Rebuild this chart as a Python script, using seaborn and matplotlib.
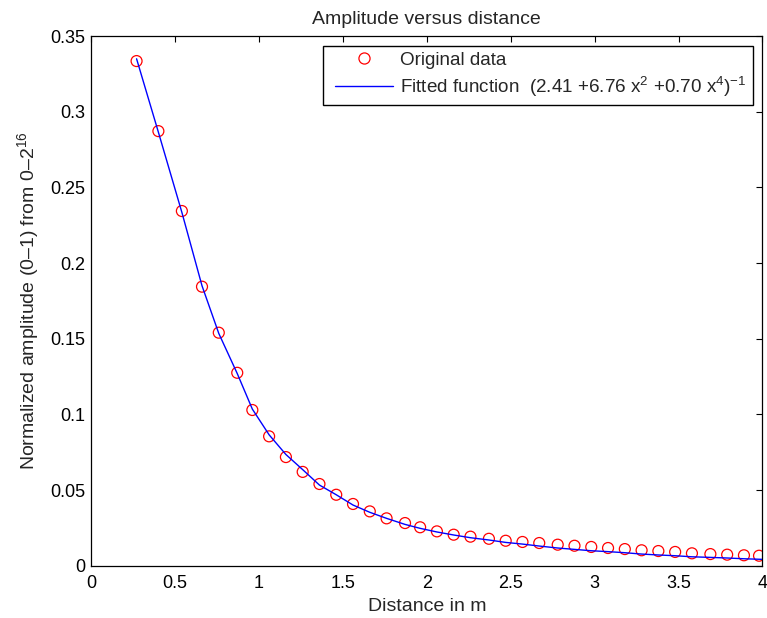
import matplotlib
matplotlib.use('Agg')
import matplotlib.pyplot as plt
from matplotlib.legend_handler import HandlerLine2D
import seaborn as sns

distance = [0.27, 0.40, 0.54, 0.66, 0.76, 0.87, 0.96, 1.06, 1.16, 1.26,
            1.36, 1.46, 1.56, 1.66, 1.76, 1.87, 1.96, 2.06, 2.16, 2.26,
            2.37, 2.47, 2.57, 2.67, 2.78, 2.88, 2.98, 3.08, 3.18, 3.28,
            3.38, 3.48, 3.58, 3.69, 3.79, 3.89, 3.98]
amplitude = [0.3335, 0.2872, 0.2344, 0.1844, 0.1540, 0.1275, 0.1029, 0.0855, 0.0718, 0.0620,
             0.0540, 0.0469, 0.0408, 0.0359, 0.0313, 0.0282, 0.0254, 0.0227, 0.0205, 0.0192,
             0.0178, 0.0165, 0.0157, 0.0150, 0.0139, 0.0132, 0.0124, 0.0117, 0.0110, 0.0102,
             0.0097, 0.0091, 0.0082, 0.0077, 0.0073, 0.0069, 0.0066]

# Fitted curve
fit_distance = [0.27, 0.40, 0.54, 0.66, 0.76, 0.87, 0.96, 1.06, 1.16, 1.26,
                1.36, 1.46, 1.56, 1.66, 1.76, 1.87, 1.96, 2.06, 2.16, 2.26,
                2.37, 2.47, 2.57, 2.67, 2.78, 2.88, 2.98, 3.08, 3.18, 3.28,
                3.38, 3.48, 3.58, 3.69, 3.79, 3.89, 4.00]
fit_amplitude = [0.3350, 0.2865, 0.2335, 0.1850, 0.1535, 0.1270, 0.1035, 0.0865, 0.0735, 0.0635,
                 0.0533, 0.0469, 0.0401, 0.0353, 0.0313, 0.0273, 0.0247, 0.0223, 0.0203, 0.0185,
                 0.0170, 0.0154, 0.0143, 0.0130, 0.0117, 0.0108, 0.0099, 0.0093, 0.0086, 0.0077,
                 0.0071, 0.0066, 0.0059, 0.0055, 0.0051, 0.0046, 0.0042]

xticks = [0, 0.5, 1, 1.5, 2, 2.5, 3, 3.5, 4]
yticks = [0, 0.05, 0.1, 0.15, 0.2, 0.25, 0.3, 0.35]

sns.set_style('white')
plt.rcParams['font.family'] = ['Liberation Sans', 'DejaVu Sans']
plt.rcParams['mathtext.fontset'] = 'custom'
plt.rcParams['mathtext.rm'] = 'Liberation Sans'
plt.rcParams['mathtext.default'] = 'regular'

fig = plt.figure(figsize=(7.67, 6.18), dpi=100)
ax = fig.add_axes([0.119, 0.0846, 0.875, 0.857])

sns.scatterplot(x=distance, y=amplitude, marker='o', s=62, facecolor='none',
                edgecolor='red', linewidth=0.9, ax=ax, zorder=2)
sns.lineplot(x=fit_distance, y=fit_amplitude, color='blue', linewidth=1.0,
             sort=False, ax=ax, zorder=3)

ax.set_xlim(0, 4)
ax.set_ylim(0, 0.35)
ax.set_xticks(xticks)
ax.set_xticklabels(['0', '0.5', '1', '1.5', '2', '2.5', '3', '3.5', '4'])
ax.set_yticks(yticks)
ax.set_yticklabels(['0', '0.05', '0.1', '0.15', '0.2', '0.25', '0.3', '0.35'])

for s in ax.spines.values():
    s.set_visible(True)
    s.set_color('black')
    s.set_linewidth(0.9)

ax.tick_params(axis='both', direction='in', length=4.5, width=0.8, colors='black',
               labelsize=13, top=True, right=True)
ax.tick_params(axis='x', pad=7)
ax.tick_params(axis='y', pad=4)

ax.set_xlabel('Distance in m', fontsize=14, labelpad=4)
ax.set_ylabel('Normalized amplitude (0\u20131) from 0\u20132$^{16}$', fontsize=14, labelpad=7)
ax.set_title('Amplitude versus distance', fontsize=14, pad=9)

h_pts = plt.Line2D([], [], linestyle='none', marker='o', markersize=8,
                   markerfacecolor='none', markeredgecolor='red', markeredgewidth=0.9)
h_fit = plt.Line2D([], [], color='blue', linewidth=1.0)
leg = ax.legend([h_pts, h_fit],
                ['Original data', 'Fitted function  (2.41 +6.76 x$^{2}$ +0.70 x$^{4}$)$^{\u22121}$'],
                loc='upper right', fontsize=13.6, fancybox=False, framealpha=1,
                edgecolor='black', handlelength=3.35, handletextpad=0.4,
                borderaxespad=0.5, borderpad=0.33, labelspacing=0.3,
                handler_map={h_pts: HandlerLine2D(xpad=0.3), h_fit: HandlerLine2D(xpad=0.3)})
leg.get_frame().set_linewidth(1.0)

fig.savefig('out.png', dpi=100)
